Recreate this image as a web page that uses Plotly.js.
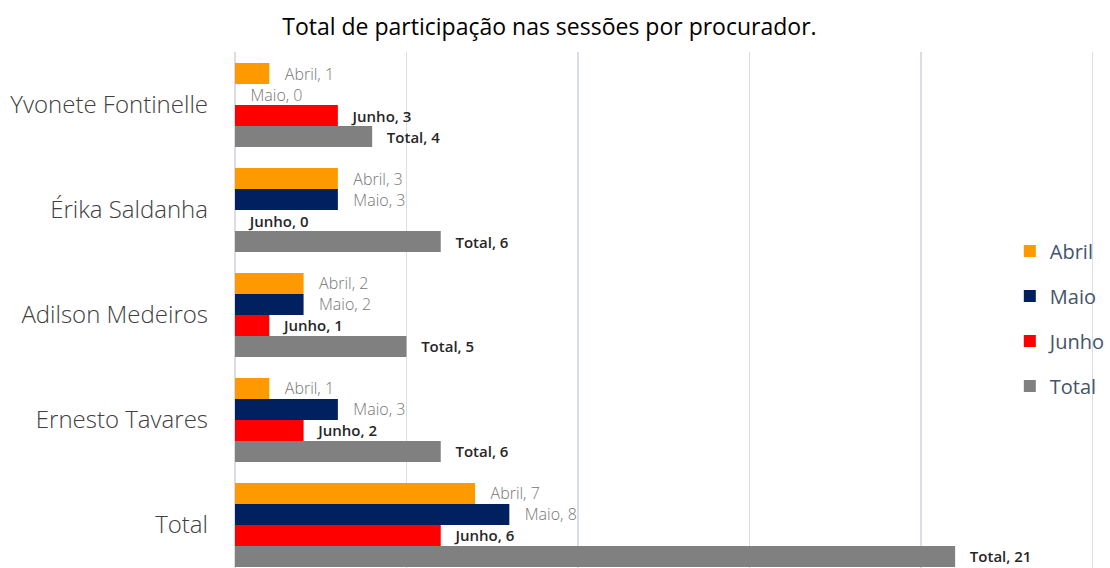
<!DOCTYPE html>
<html>
<head>
<meta charset="utf-8">
<script src="https://cdn.plot.ly/plotly-3.0.1.min.js"></script>
<style>html,body{margin:0;padding:0;background:#fff;}#chart{width:1110px;height:568px;}</style>
</head>
<body>
<div id="chart"></div>
<script>
const categories = ["Yvonete Fontinelle", "Érika Saldanha", "Adilson Medeiros", "Ernesto Tavares", "Total"];
const seriesNames = ["Abril", "Maio", "Junho", "Total"];
const abril = [1, 3, 2, 1, 7];
const maio = [0, 3, 2, 3, 8];
const junho = [3, 0, 1, 2, 6];
const total = [4, 6, 5, 6, 21];
const seriesValues = [abril, maio, junho, total];
const colors = ["#FF9900", "#002060", "#FF0000", "#808080"];
const labelFonts = [
  {family: "Open Sans, sans-serif", size: 16, color: "#767676", weight: 300},
  {family: "Open Sans, sans-serif", size: 16, color: "#767676", weight: 300},
  {family: "Open Sans, sans-serif", size: 15, color: "#262626", weight: 600},
  {family: "Open Sans, sans-serif", size: 15, color: "#262626", weight: 600}
];
const pad = "\u00a0\u00a0\u00a0";

const traces = seriesNames.map((name, i) => ({
  type: "bar",
  orientation: "h",
  name: name,
  y: categories,
  x: seriesValues[i],
  marker: {color: colors[i]},
  text: seriesValues[i].map(v => pad + name + ", " + v),
  textposition: "outside",
  textfont: labelFonts[i],
  constraintext: "none",
  cliponaxis: false,
  legendgroup: "g" + i,
  hoverinfo: "x+name"
}));

const layout = {
  width: 1110,
  height: 568,
  margin: {l: 235, r: 16, t: 52, b: 0, autoexpand: false},
  paper_bgcolor: "#FFFFFF",
  plot_bgcolor: "#FFFFFF",
  barmode: "group",
  bargap: 0.2,
  bargroupgap: 0,
  title: {
    text: "Total de participação nas sessões por procurador.",
    font: {family: "Open Sans, sans-serif", size: 23, color: "#000000"},
    xref: "container", x: 0.495, xanchor: "center",
    yref: "container", y: 0.952, yanchor: "middle"
  },
  xaxis: {
    range: [0, 25.05],
    dtick: 5,
    showticklabels: false,
    showgrid: true,
    gridcolor: "#D9DEE6",
    gridwidth: 1.5,
    zeroline: true,
    zerolinecolor: "#D9DEE6",
    zerolinewidth: 1.5,
    showline: false,
    automargin: false,
    fixedrange: true
  },
  yaxis: {
    type: "category",
    range: [4.41, -0.505],
    showgrid: false,
    zeroline: false,
    showline: false,
    ticks: "",
    ticklabelstandoff: 26,
    automargin: false,
    tickfont: {family: "Open Sans, sans-serif", size: 24, color: "#404040", weight: 300},
    fixedrange: true
  },
  showlegend: true,
  legend: {
    x: 0.902, xanchor: "left",
    y: 0.652, yanchor: "top",
    bgcolor: "rgba(0,0,0,0)",
    font: {family: "Open Sans, sans-serif", size: 20, color: "#44546A"},
    tracegroupgap: 16,
    traceorder: "grouped",
    itemwidth: 30
  }
};

Plotly.newPlot("chart", traces, layout, {displayModeBar: false, staticPlot: true});
</script>
</body>
</html>
